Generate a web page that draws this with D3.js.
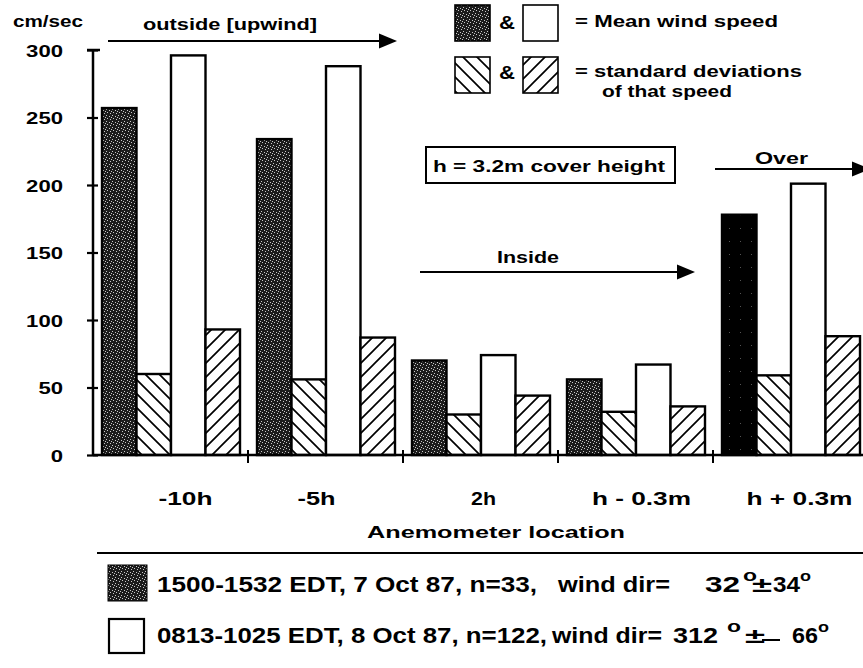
<!DOCTYPE html>
<html>
<head>
<meta charset="utf-8">
<script src="https://cdn.jsdelivr.net/npm/d3@7"></script>
<style>
  body { margin: 0; background: #fff; }
  svg text { font-family: 'Liberation Sans', Arial, Helvetica, sans-serif; font-weight: bold; fill: #000; }
</style>
</head>
<body>
<div id="chart"></div>
<script>
// anemometer positions
const locations = ['-10h', '-5h', '2h', 'h - 0.3m', 'h + 0.3m'];
const labelShift = [15, -9, 3, 6, 9];
const labelWidth = [54, 38, 25, 99, 106];
// 7 Oct 87 (stippled) and 8 Oct 87 (open) means, with their standard deviations
const meanOct7 = [257, 234, 70, 56, 178];
const sdOct7 = [60, 56, 30, 32, 59];
const meanOct8 = [296, 288, 74, 67, 201];
const sdOct8 = [93, 87, 44, 36, 88];
const yTicks = [0, 50, 100, 150, 200, 250, 300];
const seriesKeys = ['mean7', 'sd7', 'mean8', 'sd8'];

const width = 863;
const height = 668;
const margin = { top: 50, right: -5, bottom: 213, left: 93 };

const svg = d3.select('#chart').append('svg')
  .attr('width', width)
  .attr('height', height);

// small helper for stretched label text
const txt = (x, y, s, size, len, anchor) => {
  const t = svg.append('text')
    .attr('x', x).attr('y', y)
    .attr('text-anchor', anchor || 'start')
    .style('font-size', size + 'px')
    .text(s);
  if (len) t.attr('textLength', len).attr('lengthAdjust', 'spacingAndGlyphs');
  return t;
};

// fill patterns
const defs = svg.append('defs');
const stip = defs.append('pattern').attr('id', 'stipple')
  .attr('width', 6).attr('height', 6).attr('patternUnits', 'userSpaceOnUse');
stip.append('rect').attr('width', 6).attr('height', 6).attr('fill', '#1c1c1c');
[[1, 1], [4, 2], [2, 4], [5, 5], [0, 3]].forEach(p => {
  stip.append('rect').attr('x', p[0]).attr('y', p[1]).attr('width', 1).attr('height', 1).attr('fill', '#c8c8c8');
});
const stipDark = defs.append('pattern').attr('id', 'stippleDark')
  .attr('width', 11).attr('height', 13).attr('patternUnits', 'userSpaceOnUse');
stipDark.append('rect').attr('width', 11).attr('height', 13).attr('fill', '#000');
stipDark.append('rect').attr('x', 5).attr('y', 7).attr('width', 1).attr('height', 1).attr('fill', '#555');

function hatch(id, dir) {
  const p = defs.append('pattern').attr('id', id)
    .attr('width', 14).attr('height', 14).attr('patternUnits', 'userSpaceOnUse');
  p.append('rect').attr('width', 14).attr('height', 14).attr('fill', '#fff');
  const d = dir > 0
    ? 'M0,14 L14,0 M-7,7 L7,-7 M7,21 L21,7'
    : 'M0,0 L14,14 M-7,7 L7,21 M7,-7 L21,7';
  p.append('path').attr('d', d).attr('stroke', '#000').attr('stroke-width', 1.7);
}
hatch('hatchBack', -1);
hatch('hatchFwd', 1);

const x0 = d3.scaleBand()
  .domain(locations)
  .range([margin.left, margin.left + 155 * locations.length])
  .paddingInner(0).paddingOuter(0);

const x1 = d3.scaleBand()
  .domain(seriesKeys)
  .range([9, 147])
  .padding(0);

const y = d3.scaleLinear()
  .domain([0, 300])
  .range([455, margin.top]);

const rows = locations.map((loc, i) => ({
  loc, i,
  vals: [
    { key: 'mean7', v: meanOct7[i] },
    { key: 'sd7', v: sdOct7[i] },
    { key: 'mean8', v: meanOct8[i] },
    { key: 'sd8', v: sdOct8[i] }
  ]
}));

const fillFor = (key, i) => {
  if (key === 'mean7') return i === 4 ? 'url(#stippleDark)' : 'url(#stipple)';
  if (key === 'sd7') return 'url(#hatchBack)';
  if (key === 'mean8') return '#fff';
  return 'url(#hatchFwd)';
};

const groups = svg.selectAll('g.group')
  .data(rows)
  .enter().append('g')
  .attr('class', 'group')
  .attr('transform', d => `translate(${x0(d.loc)},0)`);

groups.selectAll('rect')
  .data(d => d.vals.map(v => ({ ...v, i: d.i })))
  .enter().append('rect')
  .attr('x', d => x1(d.key))
  .attr('y', d => y(d.v))
  .attr('width', x1.bandwidth())
  .attr('height', d => y(0) - y(d.v))
  .attr('fill', d => fillFor(d.key, d.i))
  .attr('stroke', '#000')
  .attr('stroke-width', 2.4);

// y axis
const yAxis = svg.append('g')
  .attr('transform', `translate(${margin.left},0)`)
  .call(d3.axisLeft(y).tickValues(yTicks).tickSize(6).tickSizeOuter(0));
yAxis.select('.domain').attr('stroke', '#000').attr('stroke-width', 2.5)
  .attr('d', `M0,${y(300)}V${y(0)}`);
yAxis.selectAll('.tick line').attr('stroke-width', 2.2).attr('x1', 5).attr('x2', -6);
yAxis.selectAll('.tick text')
  .attr('x', -30)
  .attr('dy', '0.36em')
  .style('font-size', '17px')
  .style('font-family', "'Liberation Sans', Arial, sans-serif")
  .style('font-weight', 'bold')
  .attr('textLength', d => String(d).length * 12.3)
  .attr('lengthAdjust', 'spacingAndGlyphs');
yAxis.append('line')
  .attr('x1', -6).attr('x2', 7).attr('y1', y(300)).attr('y2', y(300))
  .attr('stroke', '#000').attr('stroke-width', 2.5);

// x axis
const boundaries = locations.map(l => x0(l));
const xAxisG = svg.append('g');
xAxisG.append('line')
  .attr('x1', margin.left).attr('x2', width)
  .attr('y1', y(0)).attr('y2', y(0))
  .attr('stroke', '#000').attr('stroke-width', 2.5);
xAxisG.selectAll('line.tk')
  .data(boundaries.slice(1))
  .enter().append('line')
  .attr('class', 'tk')
  .attr('x1', d => d).attr('x2', d => d)
  .attr('y1', y(0) - 5).attr('y2', y(0) + 8)
  .attr('stroke', '#000').attr('stroke-width', 2);
xAxisG.selectAll('text.xl')
  .data(locations)
  .enter().append('text')
  .attr('class', 'xl')
  .attr('x', (d, i) => x0(d) + x0.bandwidth() / 2 + labelShift[i])
  .attr('y', 505)
  .attr('text-anchor', 'middle')
  .style('font-size', '18px')
  .attr('textLength', (d, i) => labelWidth[i])
  .attr('lengthAdjust', 'spacingAndGlyphs')
  .text(d => d);

txt(496, 538, 'Anemometer location', 17, 258, 'middle');

// y unit
txt(13, 27, 'cm/sec', 16, 70);

// arrows
const arrow = (x1a, x2a, ya) => {
  svg.append('line')
    .attr('x1', x1a).attr('x2', x2a - 16).attr('y1', ya).attr('y2', ya)
    .attr('stroke', '#000').attr('stroke-width', 2.2);
  svg.append('path')
    .attr('d', `M${x2a},${ya} L${x2a - 18},${ya - 7.5} L${x2a - 18},${ya + 7.5} Z`)
    .attr('fill', '#000');
};
arrow(108, 397, 41);
txt(143, 30, 'outside  [upwind]', 16, 174);
arrow(420, 695, 272);
txt(497, 263, 'Inside', 16, 62);
arrow(715, 870, 169);
txt(755, 164, 'Over', 16, 53);

// cover height box
svg.append('rect')
  .attr('x', 426).attr('y', 147).attr('width', 249).attr('height', 36)
  .attr('fill', '#fff').attr('stroke', '#000').attr('stroke-width', 2);
txt(433, 172, 'h = 3.2m cover height', 16, 232);

// top legend
const sw = (xx, yy, fill) => svg.append('rect')
  .attr('x', xx).attr('y', yy).attr('width', 35).attr('height', 36)
  .attr('fill', fill).attr('stroke', '#000').attr('stroke-width', 1.6);
sw(455, 5, 'url(#stipple)');
sw(523, 5, '#fff');
sw(455, 57, 'url(#hatchBack)');
sw(523, 57, 'url(#hatchFwd)');
txt(499, 29, '&', 18, 16);
txt(499, 79, '&', 18, 16);
txt(575, 27, '=  Mean  wind  speed', 16, 203);
txt(575, 77, '=  standard  deviations', 16, 227);
txt(602, 97, 'of  that  speed', 16, 130);

// bottom legend
svg.append('line')
  .attr('x1', 97).attr('x2', width).attr('y1', 553).attr('y2', 553)
  .attr('stroke', '#000').attr('stroke-width', 2.2);
svg.append('rect').attr('x', 108).attr('y', 565).attr('width', 39).attr('height', 36)
  .attr('fill', 'url(#stipple)').attr('stroke', '#000').attr('stroke-width', 1);
svg.append('rect').attr('x', 109).attr('y', 619).attr('width', 35).attr('height', 34)
  .attr('fill', '#fff').attr('stroke', '#000').attr('stroke-width', 2.2);

txt(157, 592, '1500-1532 EDT, 7 Oct 87, n=33,', 22, 380);
txt(558, 592, 'wind dir=', 22, 112);
txt(705, 592, '32', 22, 35);
txt(743, 581, 'o', 17, 14);
txt(752, 592, '\u00B1', 20, 20);
txt(773, 592, '34', 22, 27);
txt(800, 581, 'o', 15, 11);

txt(157, 643, '0813-1025 EDT, 8 Oct 87, n=122,', 22, 390);
txt(552, 643, 'wind dir=', 22, 110);
txt(673, 643, '312', 22, 45);
txt(727, 632, 'o', 17, 14);
txt(745, 643, '\u00B1', 20, 20);
svg.append('line').attr('x1', 762).attr('x2', 780).attr('y1', 640).attr('y2', 640)
  .attr('stroke', '#000').attr('stroke-width', 2);
txt(792, 643, '66', 22, 26);
txt(818, 632, 'o', 15, 11);
</script>
</body>
</html>
